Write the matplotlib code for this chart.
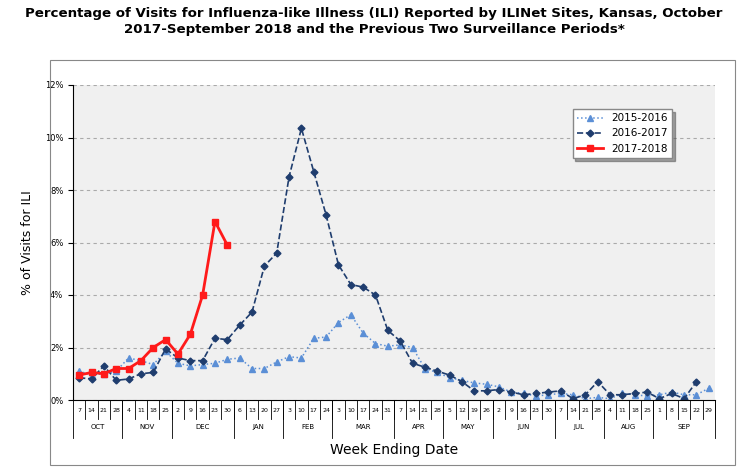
import matplotlib
matplotlib.use("Agg")
import matplotlib.pyplot as plt
import matplotlib.transforms as mtransforms
from matplotlib.patches import Rectangle

months = ["OCT","NOV","DEC","JAN","FEB","MAR","APR","MAY","JUN","JUL","AUG","SEP"]
month_days = [[7,14,21,28],[4,11,18,25],[2,9,16,23,30],[6,13,20,27],[3,10,17,24],
              [3,10,17,24,31],[7,14,21,28],[5,12,19,26],[2,9,16,23,30],[7,14,21,28],
              [4,11,18,25],[1,8,15,22,29]]
s1516 = [1.1,0.95,1.0,1.1,1.6,1.5,1.35,1.85,1.4,1.3,1.35,1.4,1.55,1.6,1.2,1.2,1.45,1.65,1.6,
         2.35,2.4,2.95,3.25,2.55,2.15,2.05,2.1,2.0,1.2,1.05,0.85,0.75,0.65,0.6,0.5,0.3,0.25,
         0.15,0.2,0.25,0.2,0.05,0.1,0.05,0.25,0.2,0.15,0.2,0.3,0.2,0.2,0.45]
s1617 = [0.85,0.8,1.3,0.75,0.8,1.0,1.05,1.95,1.6,1.5,1.5,2.35,2.3,2.85,3.35,5.1,5.6,8.5,
         10.35,8.7,7.05,5.15,4.4,4.3,4.0,2.65,2.25,1.4,1.25,1.1,0.95,0.7,0.35,0.35,0.4,0.3,
         0.2,0.25,0.3,0.35,0.05,0.2,0.7,0.2,0.2,0.25,0.3,0.05,0.25,0.05,0.7]
s1718 = [0.95,1.05,1.0,1.2,1.2,1.5,2.0,2.3,1.75,2.5,4.0,6.8,5.9]

fig = plt.figure(figsize=(7.48,4.76), dpi=100)
fig.patches.append(Rectangle((50/748, 11/476), 685/748, 405/476, transform=fig.transFigure,
                             fill=False, edgecolor="#888888", lw=0.8))
ax = fig.add_axes([73/748, 76/476, 642/748, 315/476])
ax.set_facecolor("#f0f0f0")
ax.plot(range(len(s1516)), s1516, ls=":", color="#5b8fd6", marker="^", ms=4, lw=1.1, label="2015-2016")
ax.plot(range(len(s1617)), s1617, ls="--", color="#1f3d6e", marker="D", ms=3.5, lw=1.2, label="2016-2017")
ax.plot(range(len(s1718)), s1718, ls="-", color="#ff1a1a", marker="s", ms=5, lw=2, label="2017-2018")
ax.set_xlim(-0.5, 51.5)
ax.set_ylim(0, 12)
ax.set_yticks(range(0,13,2))
ax.set_yticklabels([f"{v}%" for v in range(0,13,2)], fontsize=6)
ax.yaxis.grid(True, ls=(0,(3,3)), color="#aaaaaa", lw=0.8)
ax.set_axisbelow(True)
for s in ["top","right"]:
    ax.spines[s].set_visible(False)
ax.set_xticks([])
ax.set_ylabel("% of Visits for ILI", fontsize=9, labelpad=8)

trans = mtransforms.blended_transform_factory(ax.transData, ax.transAxes)
i = 0
for m, days in zip(months, month_days):
    start = i
    for d in days:
        ax.text(i, -0.025, str(d), transform=trans, ha="center", va="top", fontsize=4.5)
        ax.plot([i+0.5, i+0.5], [0, -0.06], transform=trans, color="black", lw=0.6, clip_on=False)
        i += 1
    ax.text((start + i - 1)/2, -0.075, m, transform=trans, ha="center", va="top", fontsize=5)
    ax.plot([i-0.5, i-0.5], [0, -0.12], transform=trans, color="black", lw=0.6, clip_on=False)
ax.plot([-0.5, -0.5], [0, -0.12], transform=trans, color="black", lw=0.6, clip_on=False)
ax.text(0.5, -0.135, "Week Ending Date", transform=ax.transAxes, ha="center", va="top", fontsize=10)

leg = ax.legend(loc="upper left", bbox_to_anchor=(0.77, 0.94), fontsize=7.5, fancybox=False,
                shadow=True, edgecolor="#888888", handlelength=2.5)
leg.get_frame().set_facecolor("white")

fig.text(0.5, 0.985, "Percentage of Visits for Influenza-like Illness (ILI) Reported by ILINet Sites, Kansas, October\n2017-September 2018 and the Previous Two Surveillance Periods*",
         ha="center", va="top", fontsize=9.6, fontweight="bold", linespacing=1.3)
fig.savefig("out.png", dpi=100)
